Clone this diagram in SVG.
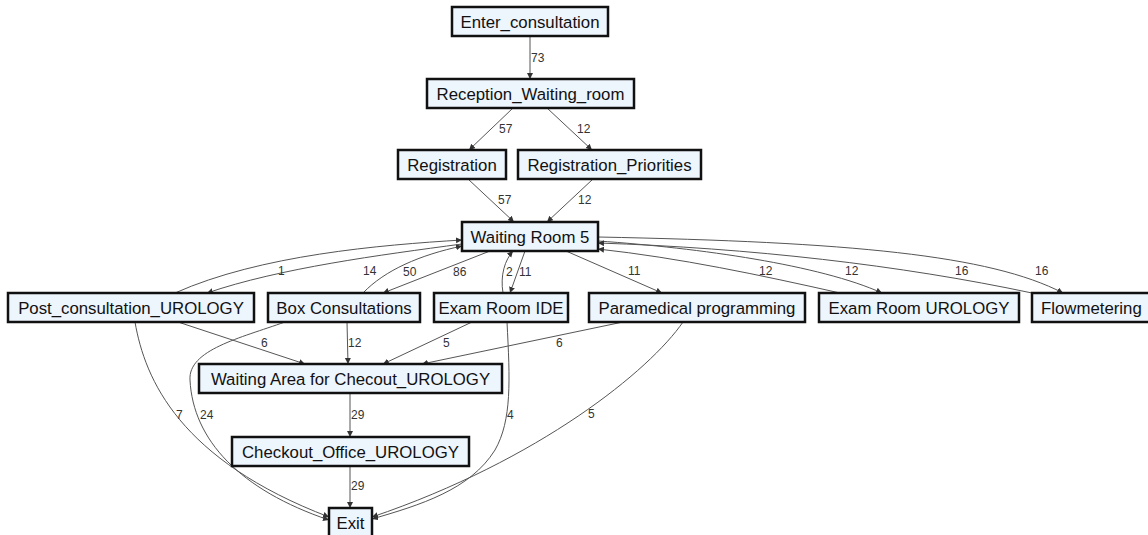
<svg xmlns="http://www.w3.org/2000/svg" width="1148" height="535" viewBox="0 0 1148 535">
<style>
.n rect{fill:#edf5fd;stroke:#111;stroke-width:2.5}
.n text{font-family:"Liberation Sans",Arial,sans-serif;font-size:16.8px;fill:#111;text-anchor:middle}
.e path{fill:none;stroke:#555;stroke-width:1;marker-end:url(#ah)}
.l text{font-family:"Liberation Sans",Arial,sans-serif;font-size:12px;fill:#333}
</style>
<defs>
<marker id="ah" markerUnits="userSpaceOnUse" markerWidth="8" markerHeight="8" refX="6" refY="3" orient="auto">
<path d="M0,0 L6,3 L0,6 Z" fill="#333"/>
</marker>
</defs>
<rect width="1148" height="535" fill="#fff"/>
<g id="edges" class="e">
<path d="M530,36 L530,79"/>
<path d="M513,108 L469,150"/>
<path d="M547,108 L592,150"/>
<path d="M468,179 L514,222"/>
<path d="M593,179 L547,222"/>
<path d="M175,293 C260,255 380,245 462,240"/>
<path d="M462,244 C380,255 280,268 207,293"/>
<path d="M363,293 C385,270 420,255 462,246"/>
<path d="M490,251 L383,293"/>
<path d="M503,293 C500,275 505,260 513,251"/>
<path d="M525,251 L510,293"/>
<path d="M566,251 L662,293"/>
<path d="M598,241 C700,248 820,265 882,293"/>
<path d="M840,293 C760,275 680,258 598,249"/>
<path d="M598,237 C850,242 990,255 1063,293"/>
<path d="M1032,293 C900,265 750,248 598,243"/>
<path d="M178,322 L305,364"/>
<path d="M347,322 L348,364"/>
<path d="M472,322 L383,364"/>
<path d="M623,322 L422,364"/>
<path d="M285,322 C240,338 188,350 190,380 C193,440 240,490 329,520"/>
<path d="M135,322 C145,380 180,460 329,517"/>
<path d="M507,322 C510,380 512,420 495,450 C470,490 420,505 372,519"/>
<path d="M683,322 C650,370 540,460 372,517"/>
<path d="M350,393 L350,437"/>
<path d="M350,466 L350,508"/>
</g>
<g id="edge-labels" class="l">
<text x="531" y="62">73</text>
<text x="499" y="133">57</text>
<text x="577" y="133">12</text>
<text x="498" y="204">57</text>
<text x="578" y="204">12</text>
<text x="278" y="275">1</text>
<text x="363" y="275">14</text>
<text x="403" y="276">50</text>
<text x="453" y="276">86</text>
<text x="506" y="276">2</text>
<text x="519" y="276">11</text>
<text x="628" y="275">11</text>
<text x="759" y="275">12</text>
<text x="845" y="275">12</text>
<text x="955" y="275">16</text>
<text x="1035" y="275">16</text>
<text x="261" y="347">6</text>
<text x="348" y="347">12</text>
<text x="443" y="347">5</text>
<text x="556" y="347">6</text>
<text x="176" y="419">7</text>
<text x="200" y="419">24</text>
<text x="507" y="419">4</text>
<text x="588" y="418">5</text>
<text x="351" y="419">29</text>
<text x="351" y="490">29</text>
</g>
<g id="n-enter" class="n"><rect x="452" y="7" width="156" height="29"/><text x="530" y="27.5">Enter_consultation</text></g>
<g id="n-reception" class="n"><rect x="427" y="79" width="207" height="29"/><text x="530.5" y="99.5">Reception_Waiting_room</text></g>
<g id="n-registration" class="n"><rect x="398" y="150" width="108" height="29"/><text x="452" y="170.5">Registration</text></g>
<g id="n-regprio" class="n"><rect x="518" y="150" width="183" height="29"/><text x="609.5" y="170.5">Registration_Priorities</text></g>
<g id="n-wr5" class="n"><rect x="462" y="222" width="136" height="29"/><text x="530" y="242.5">Waiting Room 5</text></g>
<g id="n-post" class="n"><rect x="8" y="293" width="246" height="29"/><text x="131" y="313.5">Post_consultation_UROLOGY</text></g>
<g id="n-box" class="n"><rect x="268" y="293" width="152" height="29"/><text x="344" y="313.5">Box Consultations</text></g>
<g id="n-ide" class="n"><rect x="434" y="293" width="134" height="29"/><text x="501" y="313.5">Exam Room IDE</text></g>
<g id="n-para" class="n"><rect x="589" y="293" width="216" height="29"/><text x="697" y="313.5">Paramedical programming</text></g>
<g id="n-examuro" class="n"><rect x="819" y="293" width="200" height="29"/><text x="919" y="313.5">Exam Room UROLOGY</text></g>
<g id="n-flow" class="n"><rect x="1032" y="293" width="122" height="29"/><text x="1041" y="313.5" style="text-anchor:start">Flowmetering</text></g>
<g id="n-waitarea" class="n"><rect x="199" y="364" width="303" height="29"/><text x="350.5" y="384.5">Waiting Area for Checout_UROLOGY</text></g>
<g id="n-checkout" class="n"><rect x="232" y="437" width="237" height="29"/><text x="350.5" y="457.5">Checkout_Office_UROLOGY</text></g>
<g id="n-exit" class="n"><rect x="329" y="508" width="43" height="29"/><text x="350.5" y="528.5">Exit</text></g>
</svg>
